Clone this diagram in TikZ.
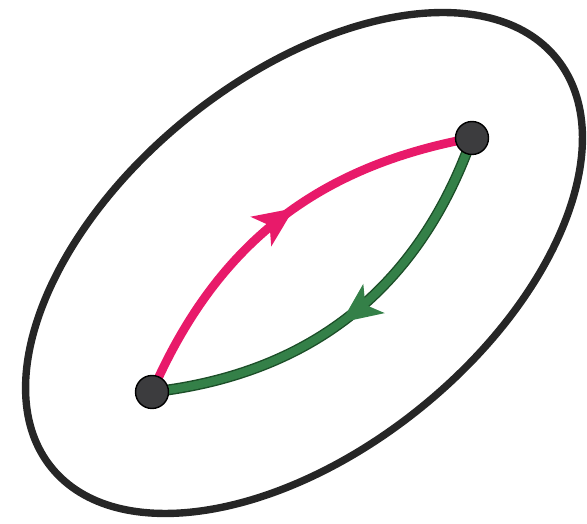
\documentclass[tikz,border=0pt]{standalone}
\usetikzlibrary{arrows.meta,decorations.markings}
\definecolor{looppink}{RGB}{232,26,106}
\definecolor{loopgreen}{RGB}{52,128,72}
\definecolor{loopgreendark}{RGB}{28,78,40}
\definecolor{dotgray}{RGB}{60,60,62}
\tikzset{
  dot/.style={circle,fill=dotgray,draw=black,line width=0.8pt,minimum size=0.66cm,inner sep=0pt},
  midarrow/.style={postaction={decorate},decoration={markings,
    mark=at position #1 with {\arrow{Stealth[length=0.8cm,width=0.7cm,inset=0.2cm]}}}},
}
\begin{document}
\begin{tikzpicture}[x=0.02cm,y=0.02cm]
\useasboundingbox (0,0) rectangle (587,523);

\draw[line width=4.2pt,black!85,rotate around={39:(304,260)}] (304,260) ellipse[x radius=325,y radius=186];

\coordinate (lo) at (152,131);
\coordinate (hi) at (472,385);

\draw[looppink,line width=5pt,midarrow=0.55] (lo) to[bend left=28] (hi);
\draw[loopgreen,line width=4.6pt,preaction={draw,loopgreendark,line width=6.2pt},midarrow=0.53] (hi) to[bend left=32] (lo);

\node[dot] (loDot) at (lo) {};
\node[dot] (hiDot) at (hi) {};
\end{tikzpicture}
\end{document}
